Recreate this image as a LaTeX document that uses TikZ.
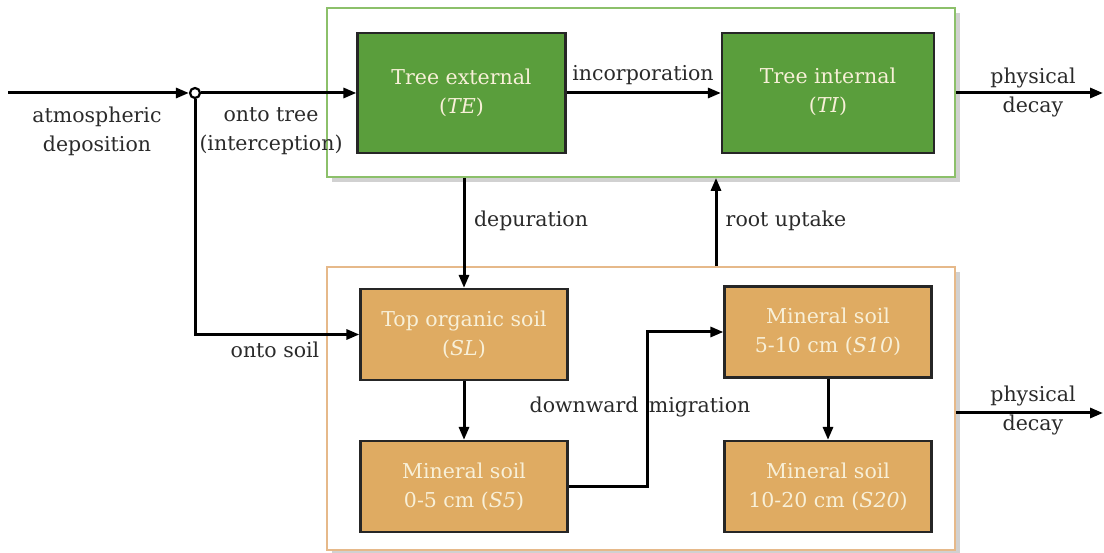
\documentclass[tikz,border=0pt]{standalone}
\usepackage{fontspec}
\setmainfont{DejaVu Serif}
\usetikzlibrary{arrows.meta,shadows}
\definecolor{treeg}{HTML}{5A9E3C}
\definecolor{soilo}{HTML}{DFAB62}
\definecolor{frameg}{HTML}{8CC06A}
\definecolor{frameo}{HTML}{E6B98A}
\definecolor{boxtext}{HTML}{F8F0D8}
\definecolor{lbltext}{HTML}{2A2A2A}
\begin{document}
\begin{tikzpicture}[x=1pt,y=-1pt,
  font=\fontsize{20.5}{29}\selectfont,
  frame/.style={line width=1.8pt, fill=white, inner sep=0pt,
    drop shadow={shadow xshift=5pt, shadow yshift=-5pt, opacity=0.3, fill=black!60}},
  box/.style={draw=black!85, line width=2.2pt, text=boxtext, align=center, inner sep=0pt},
  treebox/.style={box, fill=treeg, minimum height=120pt},
  soilbox/.style={box, fill=soilo, minimum width=207pt, minimum height=91pt},
  lbl/.style={align=center, text=lbltext, inner sep=0pt},
  arr/.style={line width=3pt, -{Triangle[length=13pt,width=10pt]}}]
\useasboundingbox (0,0) rectangle (1104,553);
% containers
\node[frame, draw=frameg, minimum width=628pt, minimum height=169pt] (outerT) at (641,92.5) {};
\node[frame, draw=frameo, minimum width=628pt, minimum height=283pt] (outerS) at (641,408.5) {};
% boxes
\node[treebox, minimum width=208pt] (TE) at (461.5,93) {Tree external\\(\textit{TE})};
\node[treebox, minimum width=212pt, text depth=6pt] (TI) at (828,93) {Tree internal\\(\textit{TI})};
\node[soilbox] (SL) at (464,334.5) {Top organic soil\\(\textit{SL})};
\node[soilbox] (S5) at (464,486.5) {Mineral soil\\0-5 cm (\textit{S5})};
\node[soilbox] (S10) at (828,332) {Mineral soil\\5-10 cm (\textit{S10})};
\node[soilbox] (S20) at (828,486.5) {Mineral soil\\10-20 cm (\textit{S20})};
% junction
\coordinate (src) at (8,93);
\node[circle, draw, line width=2.2pt, fill=white, minimum size=10pt, inner sep=0pt] (junc) at (195,93) {};
\draw[arr] (src) -- (junc.west);
\draw[arr] (junc.east) -- (TE.west);
\draw[arr] (junc.south) |- (SL.west);
% tree fluxes
\draw[arr] (TE.east) -- (TI.west);
\coordinate (pdT) at (1103,93);
\draw[arr] (TI.east -| outerT.east) -- (pdT);
\draw[arr] (SL.north |- outerT.south) -- (SL.north);
\coordinate (ru) at (716,0);
\draw[arr] (ru |- outerS.north) -- (ru |- outerT.south);
% soil fluxes
\draw[arr] (SL.south) -- (S5.north);
\coordinate (mig) at (647,0);
\draw[arr] (S5.east) -- (S5.east -| mig) |- (S10.west);
\draw[arr] (S10.south) -- (S20.north);
\coordinate (pdS) at (1103,413);
\draw[arr] (pdS -| outerS.east) -- (pdS);
% labels
\node[lbl] (l1) at (97,131) {atmospheric\\deposition};
\node[lbl] (l2) at (271,131) {onto tree\\(interception)};
\node[lbl] (l3) at (275,350) {onto soil};
\node[lbl] (l4) at (643,75) {incorporation};
\node[lbl] (l5) at (531,221) {depuration};
\node[lbl] (l6) at (786,221) {root uptake};
\node[lbl] (l7) at (640,407) {downward\hspace{0.5em}migration};
\node[lbl] (l8) at (1033,92) {physical\\decay};
\node[lbl] (l9) at (1033,410) {physical\\decay};
\end{tikzpicture}
\end{document}
